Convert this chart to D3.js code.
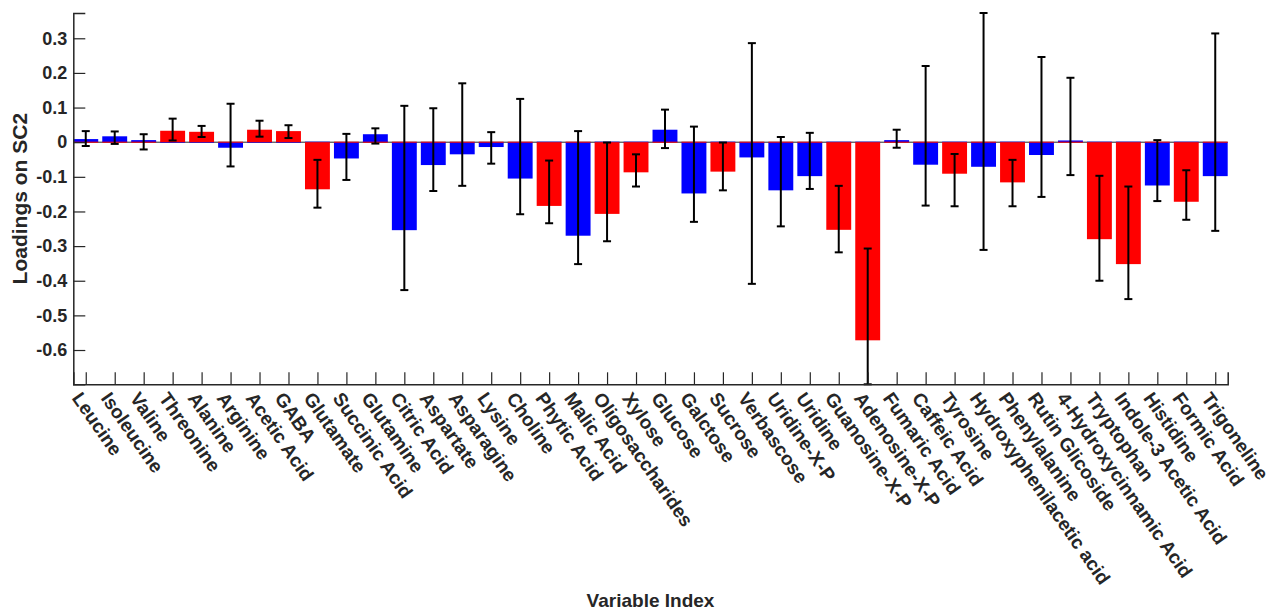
<!DOCTYPE html>
<html>
<head>
<meta charset="utf-8">
<script src="https://cdn.jsdelivr.net/npm/d3@7"></script>
<style>
    body { margin: 0; background: #fff; }
    text { font-family: "Liberation Sans", Arial, sans-serif; font-weight: bold; fill: #262626; }
</style>
</head>
<body>
<svg id="chart" width="1273" height="610"></svg>
<script>

// Loadings on SC2, one entry per metabolite
const variables = [
    "Leucine", "Isoleucine", "Valine", "Threonine", "Alanine", "Arginine",
    "Acetic Acid", "GABA", "Glutamate", "Succinic Acid", "Glutamine", "Citric Acid",
    "Aspartate", "Asparagine", "Lysine", "Choline", "Phytic Acid", "Malic Acid",
    "Oligosaccharides", "Xylose", "Glucose", "Galctose", "Sucrose", "Verbascose",
    "Uridine-X-P", "Uridine", "Guanosine-X-P", "Adenosine-X-P", "Fumaric Acid",
    "Caffeic Acid", "Tyrosine", "Hydroxyphenilacetic acid", "Phenylalanine",
    "Rutin Glicoside", "4-Hydroxycinnamic Acid", "Tryptophan", "Indole-3 Acetic Acid",
    "Histidine", "Formic Acid", "Trigoneline"
];

const loadings = [
    0.009, 0.017, 0.006, 0.033, 0.030, -0.016,
    0.036, 0.032, -0.136, -0.047, 0.023, -0.254,
    -0.066, -0.035, -0.014, -0.105, -0.184, -0.270,
    -0.207, -0.087, 0.036, -0.148, -0.085, -0.044,
    -0.139, -0.098, -0.253, -0.572, 0.006,
    -0.065, -0.091, -0.071, -0.116,
    -0.037, 0.005, -0.280, -0.352,
    -0.125, -0.172, -0.098
];

// error bar ends (lower / upper)
const errLow = [
    -0.011, -0.005, -0.021, 0.005, 0.015, -0.070,
    0.016, 0.012, -0.189, -0.109, -0.004, -0.427,
    -0.141, -0.126, -0.062, -0.208, -0.234, -0.352,
    -0.286, -0.128, -0.017, -0.230, -0.139, -0.409,
    -0.243, -0.135, -0.318, -0.699, -0.016,
    -0.183, -0.185, -0.311, -0.185,
    -0.158, -0.095, -0.400, -0.453,
    -0.170, -0.224, -0.256
];

const errHigh = [
    0.032, 0.031, 0.023, 0.068, 0.047, 0.111,
    0.062, 0.049, -0.051, 0.024, 0.040, 0.105,
    0.098, 0.170, 0.029, 0.125, -0.053, 0.032,
    -0.001, -0.035, 0.094, 0.045, -0.001, 0.286,
    0.015, 0.027, -0.126, -0.307, 0.036,
    0.220, -0.034, 0.373, -0.051,
    0.246, 0.186, -0.097, -0.128,
    0.006, -0.081, 0.314
];

// 1 = significant (red), 0 = not (blue)
const significant = [
    0, 0, 0, 1, 1, 0,
    1, 1, 1, 0, 0, 0,
    0, 0, 0, 0, 1, 0,
    1, 1, 0, 0, 1, 0,
    0, 0, 1, 1, 0,
    0, 1, 0, 1,
    0, 0, 1, 1,
    0, 1, 0
];

const yTicks = [0.3, 0.2, 0.1, 0, -0.1, -0.2, -0.3, -0.4, -0.5, -0.6];


const margin = { left: 73.3, right: 1227.7, top: 13, bottom: 384.3 };
const barWidth = 0.86;
const axisColor = "#262626";

const rows = variables.map((name, i) => ({
    name,
    idx: i + 1,
    value: loadings[i],
    lo: errLow[i],
    hi: errHigh[i],
    sig: significant[i] === 1
}));

const svg = d3.select("#chart");

// tight limits, like the original
let x = d3.scaleLinear()
    .domain([1 - barWidth / 2, rows.length + barWidth / 2])
    .range([margin.left, margin.right]);

let y = d3.scaleLinear()
    .domain([d3.min(errLow), d3.max(errHigh)])
    .range([margin.bottom, margin.top]);

const bw = x(1 + barWidth) - x(1);

// zero line
svg.append("line")
    .attr("x1", margin.left).attr("x2", margin.right)
    .attr("y1", y(0)).attr("y2", y(0))
    .attr("stroke", axisColor)
    .attr("stroke-width", 1);

// Two bar series: blue for the non significant ones, red drawn on top.
// A zero-height bar still leaves a 1px line at the baseline.
const drawSeries = (cls, color, valueOf) => {
    let g = svg.append("g").attr("class", cls);
    g.selectAll("rect")
        .data(rows)
        .enter()
        .append("rect")
        .attr("x", d => x(d.idx) - bw / 2)
        .attr("width", bw)
        .attr("y", d => Math.min(y(valueOf(d)), y(0)) - (valueOf(d) === 0 ? 0.5 : 0))
        .attr("height", d => Math.max(Math.abs(y(valueOf(d)) - y(0)), 1))
        .attr("fill", color);
}

drawSeries("blue", "#0000ff", d => d.sig ? 0 : d.value);
drawSeries("red", "#ff0000", d => d.sig ? d.value : 0);

// error bars
let eb = svg.append("g")
    .attr("class", "errorbars")
    .attr("stroke", "#000")
    .attr("stroke-width", 2)
    .selectAll("g")
    .data(rows)
    .enter()
    .append("g");

eb.append("line")
    .attr("x1", d => x(d.idx)).attr("x2", d => x(d.idx))
    .attr("y1", d => y(d.lo)).attr("y2", d => y(d.hi));

eb.append("line")
    .attr("x1", d => x(d.idx) - 4).attr("x2", d => x(d.idx) + 4)
    .attr("y1", d => y(d.lo)).attr("y2", d => y(d.lo));

eb.append("line")
    .attr("x1", d => x(d.idx) - 4).attr("x2", d => x(d.idx) + 4)
    .attr("y1", d => y(d.hi)).attr("y2", d => y(d.hi));

// Axes

let yAxis = d3.axisLeft(y)
    .tickValues(yTicks)
    .tickSize(-12)
    .tickPadding(6)
    .tickFormat(d => d === 0 ? "0" : d.toFixed(1));

let yg = svg.append("g")
    .attr("transform", `translate(${margin.left},0)`)
    .call(yAxis);

let xAxis = d3.axisBottom(x)
    .tickValues(rows.map(d => d.idx))
    .tickSize(-12)
    .tickFormat(i => variables[i - 1]);

let xg = svg.append("g")
    .attr("transform", `translate(0,${margin.bottom})`)
    .call(xAxis);

[yg, xg].forEach(g => {
    g.select(".domain").attr("stroke", axisColor).attr("stroke-width", 1.5);
    g.selectAll(".tick line").attr("stroke", axisColor).attr("stroke-width", 1.2);
    g.selectAll(".tick text")
        .attr("fill", axisColor)
        .style("font-size", "18px")
        .style("font-family", "'Liberation Sans', Arial, sans-serif")
        .style("font-weight", "bold");
});

// slanted category labels
xg.selectAll(".tick text")
    .attr("y", 0)
    .attr("dy", 0)
    .attr("text-anchor", "start")
    .style("font-size", "19px")
    .attr("transform", "translate(-15,14) rotate(55)");

// axis titles
svg.append("text")
    .attr("transform", `translate(26.5,${(margin.top + margin.bottom) / 2}) rotate(-90)`)
    .attr("text-anchor", "middle")
    .style("font-size", "21px")
    .text("Loadings on SC2");

svg.append("text")
    .attr("x", (margin.left + margin.right) / 2)
    .attr("y", 607)
    .attr("text-anchor", "middle")
    .style("font-size", "19px")
    .text("Variable Index");

</script>
</body>
</html>
